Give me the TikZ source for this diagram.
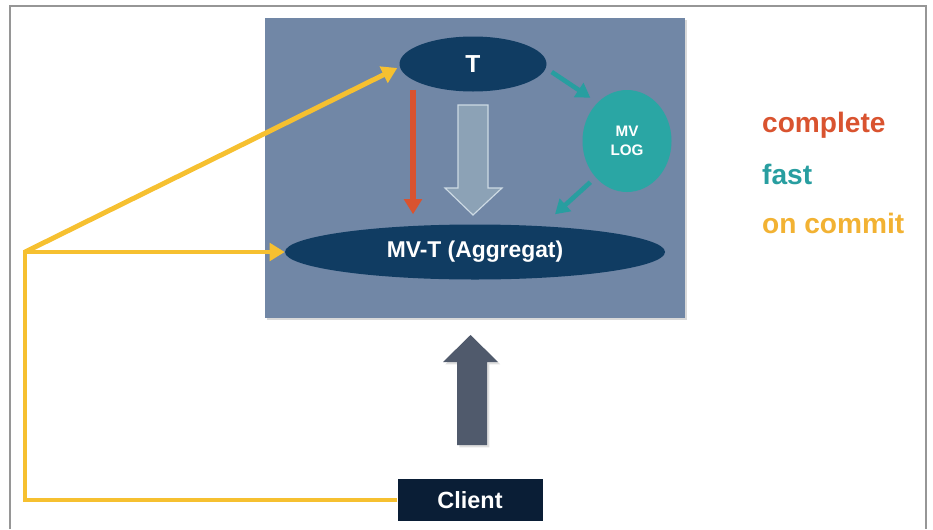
\documentclass[tikz,border=0pt]{standalone}
\usepackage{fontspec}
\setmainfont{Liberation Sans}
\usetikzlibrary{arrows.meta,calc,shapes.geometric,shadows}
\definecolor{panelblue}{RGB}{113,135,166}
\definecolor{navy}{RGB}{16,60,98}
\definecolor{clientnavy}{RGB}{10,30,54}
\definecolor{logteal}{RGB}{42,166,164}
\definecolor{fastteal}{RGB}{40,158,160}
\definecolor{completered}{RGB}{217,83,47}
\definecolor{commityellow}{RGB}{246,192,48}
\definecolor{commitorange}{RGB}{242,178,51}
\definecolor{pushgray}{RGB}{80,90,108}
\definecolor{refreshfill}{RGB}{140,162,182}
\definecolor{refreshline}{RGB}{205,218,228}
\definecolor{framegray}{RGB}{150,150,150}

\begin{document}
\begin{tikzpicture}[x=0.03cm, y=-0.03cm,
    tab/.style={ellipse, fill=navy, text=white, font=\bfseries, inner sep=0pt},
    yel/.style={draw=commityellow, line width=4.2pt},
    yelarrow/.style={yel, -{Triangle[length=13pt,width=15pt]}},
    completearrow/.style={draw=completered, line width=4.6pt, -{Triangle[length=13pt,width=15pt]}},
    fastarrow/.style={draw=fastteal, line width=4pt, -{Triangle[length=12pt,width=14pt]}},
    legend/.style={anchor=west, font=\fontsize{24}{28}\selectfont\bfseries}]
  \useasboundingbox (0,0) rectangle (933,529);
  % open frame
  \draw[framegray, line width=1pt] (10,529) -- (10,6) -- (926,6) -- (926,529);
  % panel
  \fill[panelblue, drop shadow={opacity=0.3, shadow xshift=2pt, shadow yshift=-2pt}]
    (265,18) rectangle (685,318);
  % tables
  \node[tab, minimum width=4.41cm, minimum height=1.65cm,
    font=\fontsize{21}{24}\selectfont\bfseries] (t) at (473,64) {T};
  \node[tab, fill=logteal, minimum width=2.67cm, minimum height=3.06cm, align=center,
    font=\fontsize{13}{16}\selectfont\bfseries] (log) at (627,141) {MV\\LOG};
  \node[tab, minimum width=11.4cm, minimum height=1.65cm,
    font=\fontsize{19.5}{22}\selectfont\bfseries] (mvt) at (475,252) {MV-T (Aggregat)};
  \node[fill=clientnavy, text=white, minimum width=4.35cm, minimum height=1.26cm,
    font=\fontsize{20}{24}\selectfont\bfseries] (client) at (470,500) {Client};
  % refresh arrows
  \draw[completearrow] ($(t.south)+(-60,-2)$) -- ($(mvt.north)+(-62,-10)$);
  \draw[fill=refreshfill, draw=refreshline, line width=1pt]
    (458,105) -- (488,105) -- (488,188) -- (502,188) -- (473,215)
    -- (445,188) -- (458,188) -- cycle;
  \draw[fastarrow] ($(t.east)+(5,8)$) -- ($(log.north west)+(-5,-7)$);
  \draw[fastarrow] ($(log.south west)+(-5,5)$) -- ($(mvt.north)+(80,-10)$);
  % client access
  \fill[pushgray, drop shadow={opacity=0.25, shadow xshift=2pt, shadow yshift=-2pt}]
    (457,445) -- (457,362) -- (443,362) -- (470.5,335) -- (498,362)
    -- (487,362) -- (487,445) -- cycle;
  \coordinate (split) at (25,252);
  \coordinate (corner) at (client.west -| split);
  \draw[yelarrow] (client.west) -- (corner) -- (split) -- (mvt.west);
  \draw[yelarrow] (split) -- ($(t.west)+(-2,4)$);
  % legend
  \node[legend, text=completered] (complete) at (758,125) {complete};
  \node[legend, text=fastteal] (fast) at (758,174) {fast};
  \node[legend, text=commitorange] (commit) at (758,223) {on commit};
\end{tikzpicture}
\end{document}
